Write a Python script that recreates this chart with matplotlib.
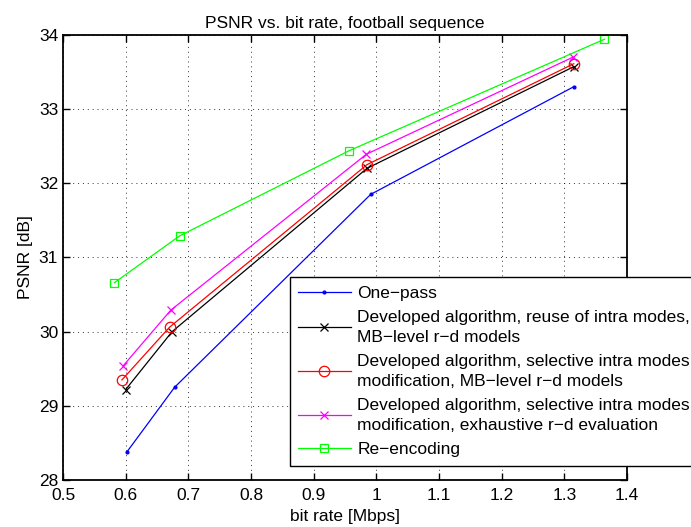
import matplotlib.pyplot as plt

plt.rcParams['font.family'] = ['Liberation Sans', 'DejaVu Sans']

# data
x_onepass = [0.602, 0.678, 0.991, 1.315]
y_onepass = [28.38, 29.25, 31.85, 33.30]

x_reuse = [0.600, 0.674, 0.985, 1.315]
y_reuse = [29.22, 30.00, 32.20, 33.57]

x_sel_mb = [0.594, 0.670, 0.985, 1.315]
y_sel_mb = [29.35, 30.06, 32.25, 33.61]

x_sel_exh = [0.596, 0.672, 0.984, 1.314]
y_sel_exh = [29.54, 30.29, 32.39, 33.70]

x_reenc = [0.582, 0.686, 0.957, 1.364]
y_reenc = [30.66, 31.29, 32.44, 33.94]

labels = [
    "One\u2212pass",
    "Developed algorithm, reuse of intra modes,\nMB\u2212level r\u2212d models",
    "Developed algorithm, selective intra modes\nmodification, MB\u2212level r\u2212d models",
    "Developed algorithm, selective intra modes\nmodification, exhaustive r\u2212d evaluation",
    "Re\u2212encoding",
]

xticks = [0.5, 0.6, 0.7, 0.8, 0.9, 1.0, 1.1, 1.2, 1.3, 1.4]
xticklabels = ["0.5", "0.6", "0.7", "0.8", "0.9", "1", "1.1", "1.2", "1.3", "1.4"]
yticks = [28, 29, 30, 31, 32, 33, 34]

fig = plt.figure(figsize=(6.91, 5.27), dpi=100)
ax = fig.add_axes([0.0912, 0.089, 0.8162, 0.845])

lw = 0.9
ax.plot(x_onepass, y_onepass, color='#0000ff', marker='.', markersize=4, lw=lw, label=labels[0])
ax.plot(x_reuse, y_reuse, color='black', marker='x', markersize=6, mew=0.9, lw=lw, label=labels[1])
ax.plot(x_sel_mb, y_sel_mb, color='#ff0000', marker='o', markersize=7.5, mfc='none', mew=0.9, lw=lw, label=labels[2])
ax.plot(x_sel_exh, y_sel_exh, color='#ff00ff', marker='x', markersize=6, mew=0.9, lw=lw, label=labels[3])
ax.plot(x_reenc, y_reenc, color='#00ff00', marker='s', markersize=6, mfc='none', mew=0.9, lw=lw, label=labels[4])

ax.set_xlim(0.5, 1.4)
ax.set_ylim(28, 34)
ax.set_xticks(xticks)
ax.set_xticklabels(xticklabels)
ax.set_yticks(yticks)
ax.tick_params(direction='in', top=True, right=True, labelsize=12.5, length=5, width=1)
ax.tick_params(axis='x', pad=6)
ax.grid(True, linestyle=(0, (1, 4)), color='black', linewidth=0.7, alpha=0.8)
for s in ax.spines.values():
    s.set_linewidth(1.3)

ax.set_title("PSNR vs. bit rate, football sequence", fontsize=12.5, pad=5)
ax.set_xlabel("bit rate [Mbps]", fontsize=12.5, labelpad=4)
ax.set_ylabel("PSNR [dB]", fontsize=12.5, labelpad=4)

leg = ax.legend(loc='upper left', bbox_to_anchor=(0.402, 0.456), borderaxespad=0,
                fancybox=False, framealpha=1, edgecolor='black', fontsize=12.5,
                handlelength=3.0, handletextpad=0.4, labelspacing=0.5, borderpad=0.5)
leg.get_frame().set_linewidth(1.0)
for t in leg.get_texts():
    t.set_linespacing(1.45)

fig.savefig("out.png", dpi=100)
